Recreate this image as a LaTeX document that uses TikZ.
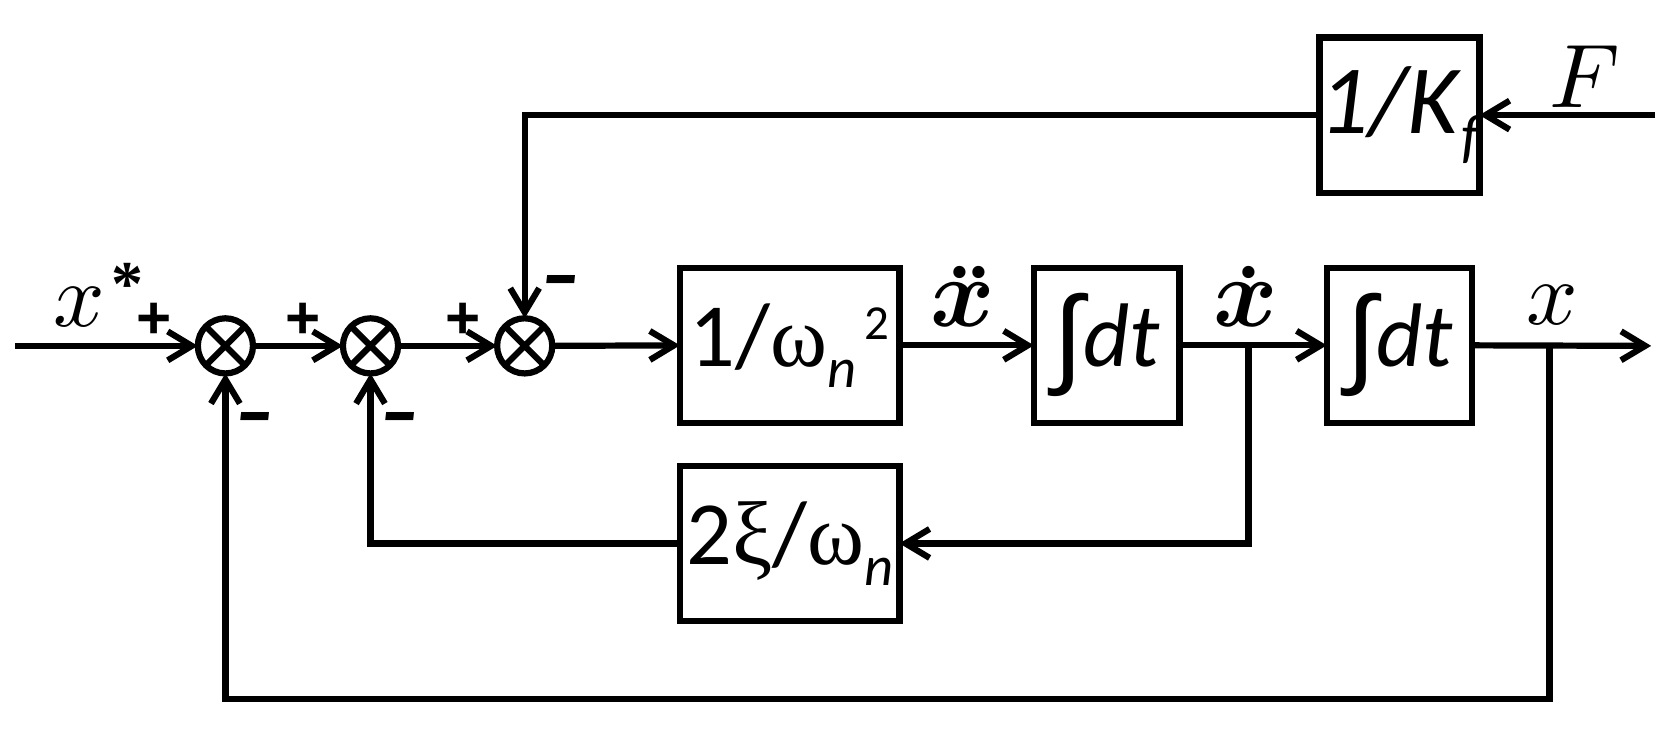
\documentclass[tikz,border=0pt]{standalone}
\usepackage{fontspec}
\usepackage{unicode-math}
\setmainfont{Carlito}
\newfontfamily\grfont{Liberation Serif}
\newfontfamily\lsans{Liberation Sans}
\usetikzlibrary{arrows.meta}
\tikzset{
  x=0.02cm, y=-0.02cm,
  conn/.style={line width=3.3pt},
  arr/.style={conn, -{Straight Barb[length=0.45cm,width=0.54cm]}},
  blk/.style={draw, line width=3.3pt, inner sep=0pt, outer sep=0pt, minimum height=2.9cm, font=\fontsize{48}{52}\selectfont},
  wideblk/.style={blk, minimum width=4.1cm},
  narrowblk/.style={blk, minimum width=2.72cm},
  sumnode/.style={circle, draw, line width=3.3pt, minimum size=1.03cm, inner sep=0pt, outer sep=0pt},
  sgn/.style={inner sep=0pt, font=\fontsize{32}{32}\selectfont\lsans\bfseries},
  msgn/.style={inner sep=0pt, transform shape, yscale=1.45, font=\fontsize{30}{30}\selectfont\lsans\bfseries\itshape},
  lbl/.style={inner sep=0pt, font=\fontsize{48}{52}\selectfont},
  blbl/.style={inner sep=0pt, font=\fontsize{52}{56}\selectfont}
}
\newcommand{\subn}{\raisebox{-11pt}{\fontsize{30}{30}\selectfont\itshape n}}
\newcommand{\intsym}{\raisebox{-4pt}{\lsans\fontsize{58}{58}\selectfont ∫}}
\newcommand{\dotsabove}[2]{\ooalign{$\symbfit{x}$\cr\hidewidth\kern#1\raisebox{26pt}{\grfont\bfseries\fontsize{40}{40}\selectfont #2}\hidewidth\cr}}
\begin{document}
\begin{tikzpicture}
\useasboundingbox (0,0) rectangle (1568,686);
% summing junctions
\node[sumnode] (s1) at (210.5,323) {};
\node[sumnode] (s2) at (346,323) {};
\node[sumnode] (s3) at (490,323) {};
\foreach \s in {s1,s2,s3}
  \draw[conn] (\s.north west) -- (\s.south east) (\s.north east) -- (\s.south west);
% blocks
\node[wideblk] (A) at (737.5,322.5) {1/{\grfont\fontsize{46}{46}\selectfont ω}\subn\raisebox{14pt}{\fontsize{26}{26}\selectfont\,2}};
\node[narrowblk] (B) at (1033.5,322.5) {\intsym\textit{dt}};
\node[narrowblk] (C) at (1307,322.5) {\intsym\textit{dt}};
\node[wideblk] (D) at (737.5,507.5) {2{\grfont\fontsize{48}{48}\selectfont ξ}/{\grfont\fontsize{46}{46}\selectfont ω}\subn};
\node[narrowblk] (E) at (1307,107.5) {\fontsize{52}{52}\selectfont\textit{1/K}\raisebox{-12pt}{\fontsize{32}{32}\selectfont\itshape f}};
% coordinates
\coordinate (in) at (14,323);
\coordinate (out) at (1542,323);
\coordinate (j1) at (1166,323);
\coordinate (j2) at (1447,323);
\coordinate (b2) at (1447,653);
\coordinate (Fin) at (1546,107.5);
% connectors
\draw[arr] (in) -- (s1.west);
\draw[arr] (s1.east) -- (s2.west);
\draw[arr] (s2.east) -- (s3.west);
\draw[arr] (s3.east) -- (A.west);
\draw[arr] (A.east) -- (B.west);
\draw[arr] (B.east) -- (C.west);
\draw[arr] (C.east) -- (out);
\draw[arr] (j1) |- (D.east);
\draw[arr] (D.west) -| (s2.south);
\draw[arr] (j2) -- (b2) -| (s1.south);
\draw[arr] (Fin) -- (E.east);
\draw[arr] (E.west) -| (s3.north);
% labels
\node[lbl, anchor=base west] (lxs) at (50,305) {$x$\kern3pt\raisebox{11pt}{\grfont\bfseries\fontsize{34}{34}\selectfont *}};
\node[sgn] (p1) at (144,300) {+};
\node[sgn] (p2) at (283,300) {+};
\node[sgn] (p3) at (432,300) {+};
\node[msgn] (m1) at (238,397) {–};
\node[msgn] (m2) at (374,397) {–};
\node[msgn] (m3) at (524,269) {–};
\node[blbl, anchor=base] (lxdd) at (899,305) {\dotsabove{7pt}{..}};
\node[blbl, anchor=base] (lxd) at (1163,305) {\dotsabove{3.4pt}{.}};
\node[lbl, anchor=base] (lx) at (1450,303) {$x$};
\node[lbl] (lF) at (1480,72) {$F$};
\end{tikzpicture}
\end{document}
